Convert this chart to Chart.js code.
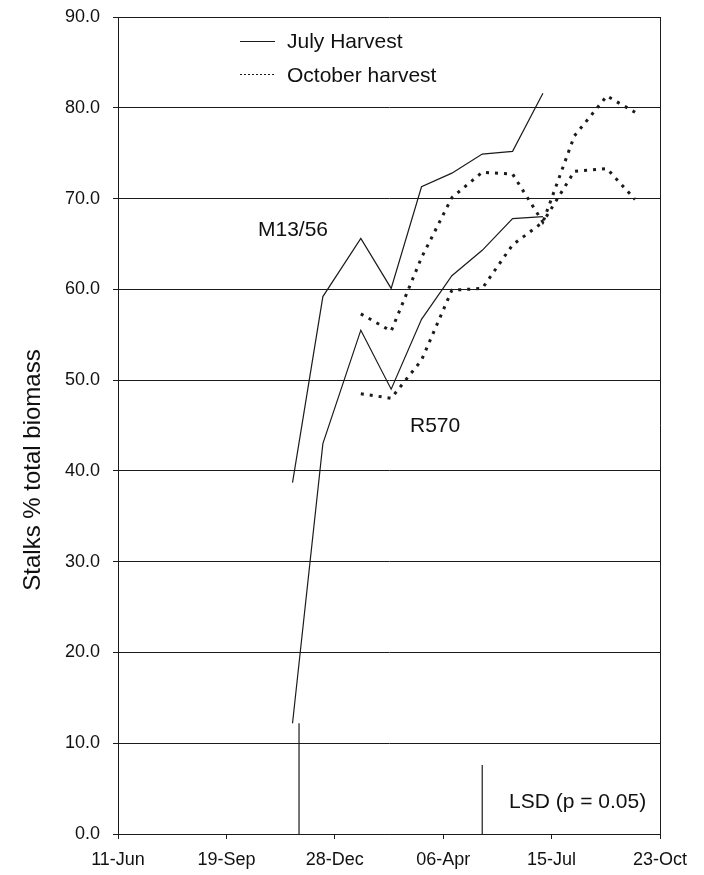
<!DOCTYPE html>
<html>
<head>
<meta charset="utf-8">
<script src="https://cdn.jsdelivr.net/npm/chart.js@4"></script>
<style>
  html, body { margin: 0; padding: 0; background: #fff; }
  canvas { display: block; }
</style>
</head>
<body>
<canvas id="stalks" width="704" height="875"></canvas>
<script>
// days counted from 11-Jun
const xTickLabels = ['11-Jun', '19-Sep', '28-Dec', '06-Apr', '15-Jul', '23-Oct'];

const julyDays = [161, 189, 224, 252, 280, 308, 336, 364, 392];
const julyM13 = [38.7, 59.2, 65.6, 60.1, 71.3, 72.8, 74.9, 75.2, 81.6];
const julyR570 = [12.2, 43.0, 55.5, 49.0, 56.7, 61.5, 64.3, 67.8, 68.0];

const octDays = [224, 252, 280, 308, 336, 364, 392, 421, 451, 477];
const octM13 = [57.3, 55.4, 63.5, 70.1, 72.9, 72.7, 67.4, 73.0, 73.3, 69.9];
const octR570 = [48.5, 48.0, 52.2, 59.9, 60.1, 64.9, 67.4, 76.9, 81.3, 79.5];

// LSD bars (day, height)
const lsdDays = [167, 336];
const lsdValues = [12.2, 7.6];

const FONT = '"Liberation Sans", Arial, sans-serif';
const INK = '#1b1b1b';

const toPoints = (xs, ys) => xs.map((x, i) => ({ x: x, y: ys[i] }));

const solid = { borderColor: INK, borderWidth: 1.2, pointRadius: 0, fill: false, tension: 0 };
const dotted = { borderColor: INK, borderWidth: 3, borderDash: [3, 6], pointRadius: 0, fill: false, tension: 0 };

const datasets = [
  Object.assign({ label: 'July Harvest M13/56', data: toPoints(julyDays, julyM13) }, solid),
  Object.assign({ label: 'July Harvest R570', data: toPoints(julyDays, julyR570) }, solid),
  Object.assign({ label: 'October harvest M13/56', data: toPoints(octDays, octM13) }, dotted),
  Object.assign({ label: 'October harvest R570', data: toPoints(octDays, octR570) }, dotted)
];
lsdDays.forEach((d, i) => {
  datasets.push(Object.assign({ label: 'LSD ' + i, data: [{ x: d, y: 0 }, { x: d, y: lsdValues[i] }] }, solid));
});

// frame, legend and text labels
const decor = {
  id: 'decor',
  afterDraw(chart) {
    const ctx = chart.ctx;
    const a = chart.chartArea;
    ctx.save();
    ctx.strokeStyle = INK;
    ctx.lineWidth = 1;
    ctx.beginPath();
    ctx.moveTo(a.right + 0.5, a.top);
    ctx.lineTo(a.right + 0.5, a.bottom);
    ctx.stroke();

    // legend
    ctx.beginPath();
    ctx.moveTo(240, 41.5);
    ctx.lineTo(275, 41.5);
    ctx.stroke();
    ctx.setLineDash([2, 2]);
    ctx.beginPath();
    ctx.moveTo(240, 74.5);
    ctx.lineTo(275, 74.5);
    ctx.stroke();
    ctx.setLineDash([]);

    ctx.fillStyle = '#111';
    ctx.textBaseline = 'alphabetic';
    ctx.textAlign = 'left';
    ctx.font = '21px ' + FONT;
    ctx.fillText('July Harvest', 287, 48);
    ctx.fillText('October harvest', 287, 82);
    ctx.fillText('M13/56', 258, 236);
    ctx.fillText('R570', 410, 432);
    ctx.fillText('LSD (p = 0.05)', 509, 808);

    // y axis title
    ctx.font = '24px ' + FONT;
    ctx.translate(33, 470);
    ctx.rotate(-Math.PI / 2);
    ctx.textAlign = 'center';
    ctx.textBaseline = 'middle';
    ctx.fillText('Stalks % total biomass', 0, 0);
    ctx.restore();
  }
};

new Chart(document.getElementById('stalks').getContext('2d'), {
  type: 'line',
  data: { datasets: datasets },
  plugins: [decor],
  options: {
    responsive: false,
    animation: false,
    devicePixelRatio: 1,
    layout: { padding: { top: 17, right: 44, left: 0, bottom: 0 } },
    plugins: { legend: { display: false }, tooltip: { enabled: false } },
    scales: {
      x: {
        type: 'linear',
        min: 0,
        max: 500,
        afterFit: s => { s.height = 41; s.paddingLeft = 0; s.paddingRight = 0; },
        ticks: {
          stepSize: 100,
          autoSkip: false,
          maxRotation: 0,
          padding: 10,
          color: '#111',
          font: { family: FONT, size: 18 },
          callback: v => xTickLabels[Math.round(v / 100)]
        },
        grid: { drawOnChartArea: false, drawTicks: true, tickLength: 5, color: INK },
        border: { color: INK, width: 1 }
      },
      y: {
        min: 0,
        max: 90,
        afterFit: s => { s.width = 118; s.paddingTop = 0; s.paddingBottom = 0; },
        ticks: {
          stepSize: 10,
          padding: 13,
          color: '#111',
          font: { family: FONT, size: 18 },
          callback: v => v.toFixed(1)
        },
        grid: { color: INK, lineWidth: 1, tickLength: 5 },
        border: { color: INK, width: 1 }
      }
    }
  }
});
</script>
</body>
</html>
